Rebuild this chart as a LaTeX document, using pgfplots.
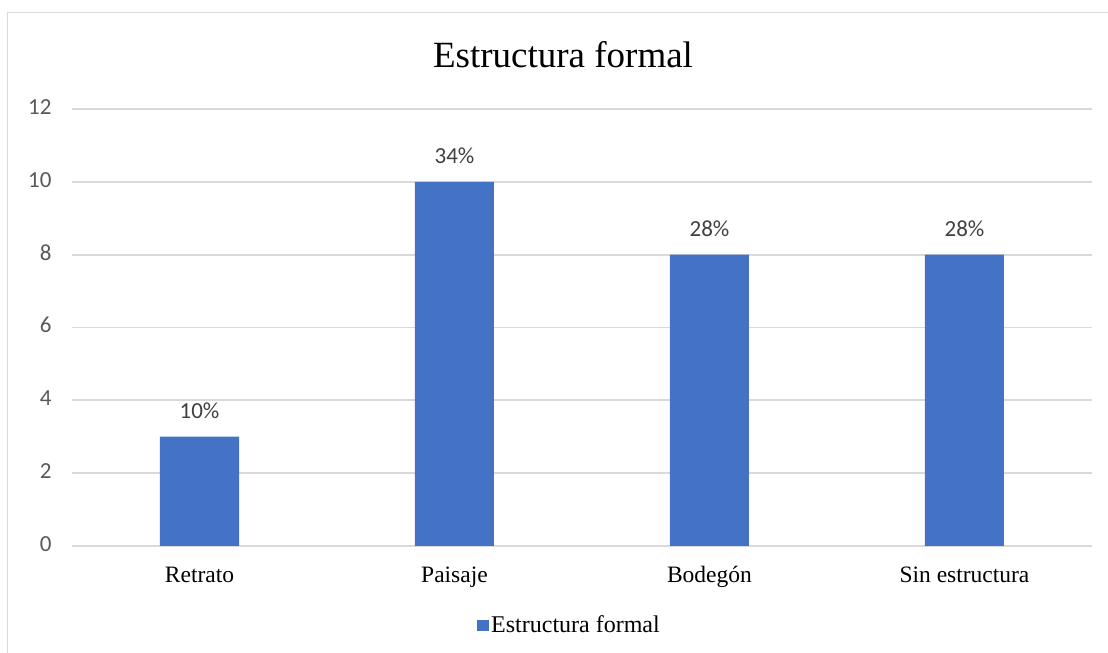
\documentclass[border=0pt]{standalone}
\usepackage{pgfplots}
\pgfplotsset{compat=1.18}
\usepackage{fontspec}
\setmainfont{Liberation Serif}
\newfontfamily\carlito{Carlito}
\definecolor{barblue}{HTML}{4472C4}
\definecolor{gridgray}{HTML}{D9D9D9}
\definecolor{ticktext}{HTML}{595959}
\definecolor{labeltext}{HTML}{404040}
\begin{document}
\begin{tikzpicture}
% canvas and chart frame
\path[use as bounding box] (0bp,0bp) rectangle (1108bp,653bp);
\draw[gridgray, line width=1.75bp] (7.5bp,0bp) -- (7.5bp,640.5bp) -- (1108bp,640.5bp);
% title
\node[anchor=base, font=\fontsize{37bp}{44bp}\selectfont] at (563bp,585bp) {Estructura formal};
\begin{axis}[
  at={(72bp,107bp)}, anchor=south west,
  scale only axis, width=1020bp, height=437bp,
  ybar, bar width=79bp,
  xmin=-0.5, xmax=3.5, ymin=0, ymax=12,
  xtick={0,1,2,3},
  xticklabels={Retrato, Paisaje, Bodegón, Sin estructura},
  ytick={0,2,4,6,8,10,12},
  major tick length=0pt,
  axis line style={draw=none},
  ymajorgrids, grid style={gridgray, line width=1.75bp},
  /pgf/number format/assume math mode=true,
  yticklabel style={font=\carlito\fontsize{23bp}{27bp}\selectfont, text=ticktext, xshift=-17bp},
  xticklabel style={font=\fontsize{23.5bp}{28bp}\selectfont, text=black, anchor=base, yshift=-36bp},
  typeset ticklabels with strut,
  point meta=explicit symbolic,
  nodes near coords,
  every node near coord/.append style={font=\carlito\fontsize{23bp}{27bp}\selectfont, text=labeltext, anchor=base, yshift=18bp},
  legend style={draw=none, fill=none, at={(0.488,-0.181)}, anchor=center,
    font=\fontsize{24bp}{28bp}\selectfont, nodes={inner sep=2.5bp}},
  legend image code/.code={\fill[#1] (0bp,-6bp) rectangle (11.5bp,5.5bp);},
]
\addplot[fill=barblue, draw=none] coordinates {
  (0,3) [10\%]
  (1,10) [34\%]
  (2,8) [28\%]
  (3,8) [28\%]
};
\addlegendentry{Estructura formal}
\end{axis}
\end{tikzpicture}
\end{document}
